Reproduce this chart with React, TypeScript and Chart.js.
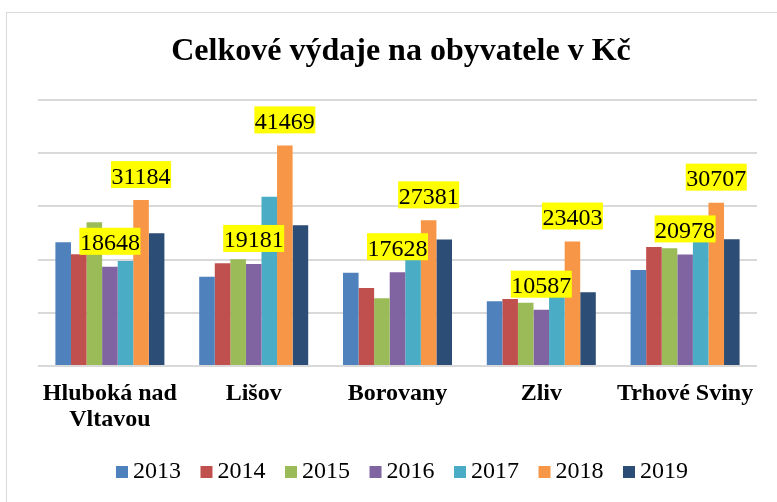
import { useEffect, useRef } from 'react';
import { Chart, registerables } from 'chart.js';

Chart.register(...registerables);

const chartTitle = 'Celkové výdaje na obyvatele v Kč';
const categories: (string | string[])[] = [['Hluboká nad', 'Vltavou'], 'Lišov', 'Borovany', 'Zliv', 'Trhové Sviny'];
const years = ['2013', '2014', '2015', '2016', '2017', '2018', '2019'];

const v2013 = [23250, 16790, 17540, 12160, 18050];
const v2014 = [21000, 19300, 14660, 12600, 22370];
const v2015 = [27000, 20050, 12720, 11900, 22120];
const v2016 = [18648, 19181, 17628, 10587, 20978];
const v2017 = [19740, 31830, 21000, 14000, 24500];
const v2018 = [31184, 41469, 27381, 23403, 30707];
const v2019 = [24940, 26440, 23800, 13850, 23820];

const seriesValues = [v2013, v2014, v2015, v2016, v2017, v2018, v2019];
const seriesColors = ['#4F81BD', '#C0504D', '#9BBB59', '#8064A2', '#4BACC6', '#F79646', '#2C4D75'];
const labelledYears = ['2016', '2018'];

const yMin = 0;
const yMax = 50000;
const yStep = 10000;

const SERIF = '"Liberation Serif", "Times New Roman", serif';

const overlayPlugin = {
  id: 'overlay',
  beforeDraw(chart: any) {
    const ctx = chart.ctx;
    ctx.save();
    ctx.fillStyle = '#ffffff';
    ctx.fillRect(0, 0, chart.width, chart.height);
    ctx.strokeStyle = '#d9d9d9';
    ctx.lineWidth = 1;
    ctx.strokeRect(6.5, 12.5, 1000, 1000);
    ctx.restore();
  },
  afterDatasetsDraw(chart: any) {
    const ctx = chart.ctx;
    ctx.save();
    ctx.font = '24px ' + SERIF;
    chart.data.datasets.forEach((ds: any, i: number) => {
      if (!labelledYears.includes(ds.label)) return;
      const meta = chart.getDatasetMeta(i);
      meta.data.forEach((bar: any, j: number) => {
        const { x, y } = bar.getProps(['x', 'y'], true);
        const text = String(ds.data[j]);
        const w = ctx.measureText(text).width;
        const boxBottom = y - 12;
        const boxTop = boxBottom - 27;
        ctx.fillStyle = '#FFFF00';
        ctx.fillRect(x - w / 2 - 0.5, boxTop, w + 1, 27);
        ctx.fillStyle = '#000000';
        ctx.textAlign = 'center';
        ctx.textBaseline = 'alphabetic';
        ctx.fillText(text, x, boxBottom - 4.5);
      });
    });
    ctx.restore();
  },
  afterDraw(chart: any) {
    const ctx = chart.ctx;
    ctx.save();
    // title
    ctx.font = 'bold 32px ' + SERIF;
    ctx.fillStyle = '#000000';
    ctx.textAlign = 'center';
    ctx.textBaseline = 'alphabetic';
    ctx.fillText(chartTitle, 401, 60);
    // legend
    ctx.font = '24px ' + SERIF;
    ctx.textAlign = 'left';
    const widths = years.map((y) => ctx.measureText(y).width);
    const gap = 19.5;
    const total = widths.reduce((a, w) => a + 17 + w, 0) + gap * (years.length - 1);
    let x = 402 - total / 2;
    years.forEach((y, i) => {
      ctx.fillStyle = seriesColors[i];
      ctx.fillRect(x, 466, 12, 12);
      ctx.fillStyle = '#000000';
      ctx.fillText(y, x + 17, 478);
      x += 17 + widths[i] + gap;
    });
    ctx.restore();
  },
};

export default function App() {
  const canvasRef = useRef<HTMLCanvasElement | null>(null);

  useEffect(() => {
    document.body.style.margin = '0';
    const canvas = canvasRef.current;
    if (!canvas) return;
    const chart = new Chart(canvas, {
      type: 'bar',
      data: {
        labels: categories as any,
        datasets: years.map((y, i) => ({
          label: y,
          data: seriesValues[i],
          backgroundColor: seriesColors[i],
          borderWidth: 0,
          categoryPercentage: 0.758,
          barPercentage: 1.0,
        })),
      },
      options: {
        responsive: false,
        animation: false,
        devicePixelRatio: 1,
        layout: { padding: { top: 100, left: 38, right: 20, bottom: 56 } },
        plugins: {
          legend: { display: false },
          title: { display: false },
          tooltip: { enabled: false },
        },
        scales: {
          x: {
            grid: { display: false, drawTicks: false },
            border: { display: false },
            ticks: {
              color: '#000000',
              font: { family: SERIF, size: 24, weight: 'bold', lineHeight: 26 / 24 },
              padding: 15,
              maxRotation: 0,
              autoSkip: false,
            },
            afterFit: (s: any) => {
              s.height = 80;
            },
          },
          y: {
            min: yMin,
            max: yMax,
            ticks: { display: false, stepSize: yStep },
            grid: { color: '#d9d9d9', lineWidth: 2, drawTicks: false },
            border: { display: false },
            afterFit: (s: any) => {
              s.width = 0;
            },
          },
        },
      },
      plugins: [overlayPlugin],
    });
    return () => chart.destroy();
  }, []);

  return (
    <div style={{ width: 777, height: 502 }}>
      <canvas ref={canvasRef} width={777} height={502} style={{ display: 'block' }} />
    </div>
  );
}
